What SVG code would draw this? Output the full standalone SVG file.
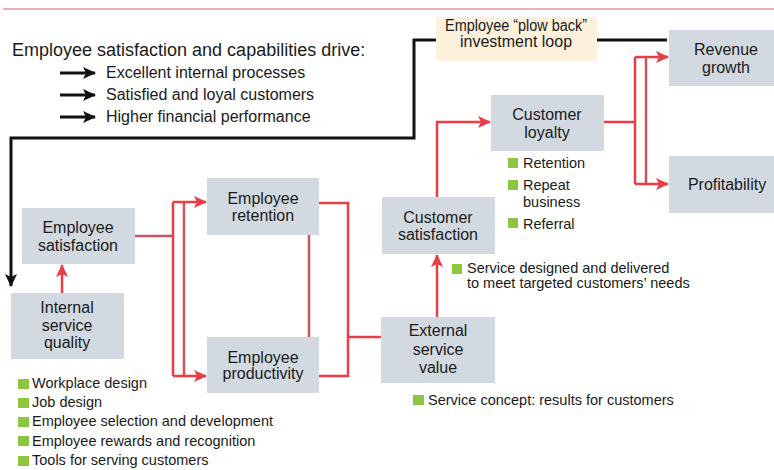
<svg xmlns="http://www.w3.org/2000/svg" width="774" height="470" viewBox="0 0 774 470">
  <style>
    .box { fill: #d2d9e0; }
    .lbl { font-family: "Liberation Sans", Arial, sans-serif; font-size: 16px; fill: #1a1a1a; text-anchor: middle; }
    .txt { font-family: "Liberation Sans", Arial, sans-serif; fill: #1a1a1a; }
    .bul { fill: #8cc63e; }
    .red { fill: none; stroke: #ea3d45; stroke-width: 2.5; }
    .dim { fill: none; stroke: #c9565b; stroke-width: 2.5; }
    .blk { fill: none; stroke: #111; stroke-width: 3; }
  </style>
  <defs>
    <marker id="redArrow" markerUnits="userSpaceOnUse" markerWidth="14" markerHeight="12" refX="12" refY="6" orient="auto">
      <path d="M0,0 L13,6 L0,12 L3,6 z" fill="#ea3d45"/>
    </marker>
    <marker id="blkArrow" markerUnits="userSpaceOnUse" markerWidth="14" markerHeight="12" refX="12" refY="6" orient="auto">
      <path d="M0,0 L13,6 L0,12 L3,6 z" fill="#111"/>
    </marker>
  </defs>

  <rect width="774" height="470" fill="#fff"/>
  <!-- top rule -->
  <line x1="3" y1="9" x2="774" y2="9" stroke="#d9626a" stroke-width="1.2"/>

  <!-- heading and driver list -->
  <g id="drivers">
    <text class="txt" x="12" y="56" font-size="18">Employee satisfaction and capabilities drive:</text>
    <path class="blk" d="M60,73 H95" stroke-width="2.5" marker-end="url(#blkArrow)"/>
    <path class="blk" d="M60,95 H95" stroke-width="2.5" marker-end="url(#blkArrow)"/>
    <path class="blk" d="M60,117 H95" stroke-width="2.5" marker-end="url(#blkArrow)"/>
    <text class="txt" x="106" y="78" font-size="16">Excellent internal processes</text>
    <text class="txt" x="106" y="100" font-size="16">Satisfied and loyal customers</text>
    <text class="txt" x="106" y="122" font-size="16">Higher financial performance</text>
  </g>

  <!-- connectors -->
  <g id="connectors">
    <!-- plow-back loop -->
    <path class="blk" d="M667,40 H414 V138 H11 V286" marker-end="url(#blkArrow)"/>
    <!-- internal service quality -> employee satisfaction -->
    <path class="red" d="M62,293 V265" marker-end="url(#redArrow)"/>
    <!-- employee satisfaction -> retention / productivity -->
    <path class="dim" d="M135,236 H173"/>
    <path class="red" d="M173,202 V376"/>
    <path class="dim" d="M184,203 V376"/>
    <path class="red" d="M173,202 H206" marker-end="url(#redArrow)"/>
    <path class="red" d="M173,376 H206" marker-end="url(#redArrow)"/>
    <path class="dim" d="M309,235 V337"/>
    <!-- retention / productivity -> external service value -->
    <path class="red" d="M319,203 H348 V376 H319"/>
    <path class="red" d="M348,337 H381"/>
    <!-- external service value -> customer satisfaction -->
    <path class="red" d="M437,317 V255" marker-end="url(#redArrow)"/>
    <!-- customer satisfaction -> customer loyalty -->
    <path class="red" d="M437,197 V122 H490" marker-end="url(#redArrow)"/>
    <!-- customer loyalty -> revenue growth / profitability -->
    <path class="red" d="M604,122 H635"/>
    <path class="red" d="M635,57 V184"/>
    <path class="dim" d="M646,57 V184"/>
    <path class="red" d="M635,57 H668" marker-end="url(#redArrow)"/>
    <path class="red" d="M635,184 H668" marker-end="url(#redArrow)"/>
  </g>

  <g id="plow-back">
    <rect x="436" y="17" width="161" height="44" fill="#fdf1dc"/>
    <text class="lbl" x="516" y="31" font-size="13" textLength="142" lengthAdjust="spacingAndGlyphs">Employee “plow back”</text>
    <text class="lbl" x="516" y="47" font-size="13">investment loop</text>
  </g>

  <g id="internal-service-quality">
    <rect class="box" x="11" y="293" width="113" height="66"/>
    <text class="lbl" x="67" y="313">Internal</text>
    <text class="lbl" x="67" y="331">service</text>
    <text class="lbl" x="67" y="348">quality</text>
  </g>
  <g id="internal-service-quality-items">
    <rect class="bul" x="18" y="379" width="11" height="10"/>
    <rect class="bul" x="18" y="398" width="11" height="10"/>
    <rect class="bul" x="18" y="417" width="11" height="10"/>
    <rect class="bul" x="18" y="436" width="11" height="10"/>
    <rect class="bul" x="18" y="456" width="11" height="10"/>
    <text class="txt" x="32" y="388" font-size="14.5">Workplace design</text>
    <text class="txt" x="32" y="407" font-size="14.5">Job design</text>
    <text class="txt" x="32" y="426" font-size="14.5">Employee selection and development</text>
    <text class="txt" x="32" y="446" font-size="14.5">Employee rewards and recognition</text>
    <text class="txt" x="32" y="465" font-size="14.5">Tools for serving customers</text>
  </g>

  <g id="employee-satisfaction">
    <rect class="box" x="22" y="208" width="113" height="56"/>
    <text class="lbl" x="78" y="233">Employee</text>
    <text class="lbl" x="78" y="251">satisfaction</text>
  </g>

  <g id="employee-retention">
    <rect class="box" x="207" y="178" width="112" height="57"/>
    <text class="lbl" x="263" y="204">Employee</text>
    <text class="lbl" x="263" y="221">retention</text>
  </g>

  <g id="employee-productivity">
    <rect class="box" x="207" y="337" width="112" height="56"/>
    <text class="lbl" x="263" y="363">Employee</text>
    <text class="lbl" x="263" y="379">productivity</text>
  </g>

  <g id="external-service-value">
    <rect class="box" x="381" y="317" width="114" height="66"/>
    <text class="lbl" x="438" y="336">External</text>
    <text class="lbl" x="438" y="355">service</text>
    <text class="lbl" x="438" y="373">value</text>
  </g>
  <g id="external-service-value-items">
    <rect class="bul" x="413" y="395" width="11" height="10"/>
    <text class="txt" x="428" y="405" font-size="14.5">Service concept: results for customers</text>
  </g>

  <g id="customer-satisfaction">
    <rect class="box" x="382" y="197" width="113" height="57"/>
    <text class="lbl" x="438" y="223">Customer</text>
    <text class="lbl" x="438" y="240">satisfaction</text>
  </g>
  <g id="customer-satisfaction-items">
    <rect class="bul" x="452" y="264" width="10" height="10"/>
    <text class="txt" x="467" y="273" font-size="14.5">Service designed and delivered</text>
    <text class="txt" x="467" y="288" font-size="14.5">to meet targeted customers’ needs</text>
  </g>

  <g id="customer-loyalty">
    <rect class="box" x="491" y="95" width="113" height="56"/>
    <text class="lbl" x="547" y="120">Customer</text>
    <text class="lbl" x="547" y="138">loyalty</text>
  </g>
  <g id="customer-loyalty-items">
    <rect class="bul" x="508" y="158" width="10" height="10"/>
    <rect class="bul" x="508" y="180" width="10" height="10"/>
    <rect class="bul" x="508" y="218" width="10" height="10"/>
    <text class="txt" x="523" y="168" font-size="14.5">Retention</text>
    <text class="txt" x="523" y="190" font-size="14.5">Repeat</text>
    <text class="txt" x="523" y="207" font-size="14.5">business</text>
    <text class="txt" x="523" y="229" font-size="14.5">Referral</text>
  </g>

  <g id="revenue-growth">
    <rect class="box" x="669" y="30" width="105" height="56"/>
    <text class="lbl" x="726" y="55">Revenue</text>
    <text class="lbl" x="726" y="73">growth</text>
  </g>

  <g id="profitability">
    <rect class="box" x="669" y="156" width="105" height="57"/>
    <text class="lbl" x="727" y="190">Profitability</text>
  </g>
</svg>
